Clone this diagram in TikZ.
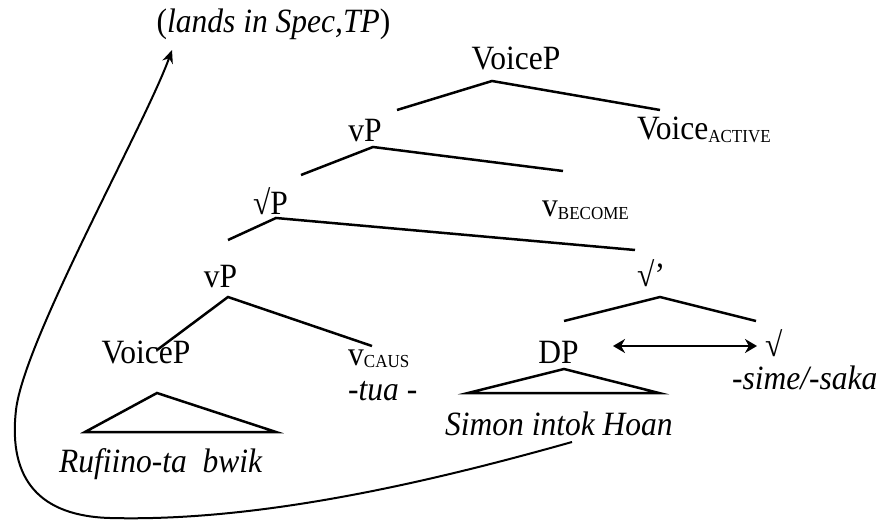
\documentclass[tikz,border=0pt]{standalone}
\usepackage{fontspec}
\setmainfont{Liberation Serif}
\usetikzlibrary{arrows.meta}
\newcommand{\lowsub}[1]{\raisebox{-2pt}{\fontsize{17}{20}\selectfont #1}}
\begin{document}
\begin{tikzpicture}[x=1pt,y=-1pt,
  lbl/.style={inner sep=0pt, yscale=1.08, font=\fontsize{31.5}{36}\selectfont},
  branch/.style={line width=2.5pt, line join=miter},
  move/.style={line width=2pt, -{Stealth[length=13pt,width=11pt]}},
  link/.style={line width=2.4pt, {Stealth[length=12pt,width=14pt]}-{Stealth[length=12pt,width=14pt]}}]
\useasboundingbox (0,0) rectangle (881,529);
% labels
\node[lbl, anchor=base] (lands) at (273.5,33) {(\textit{lands in Spec,TP})};
\node[lbl, anchor=base] (voicePtop) at (516,70) {VoiceP};
\node[lbl, anchor=base west] (voiceact) at (637,140) {Voice\lowsub{ACTIVE}};
\node[lbl, anchor=base] (vPtwo) at (365,142) {vP};
\node[lbl, anchor=base west] (vbecome) at (542,217) {v\lowsub{BECOME}};
\node[lbl, anchor=base west] (rootP) at (253,215) {√P};
\node[lbl, anchor=base] (vPthree) at (220.5,288) {vP};
\node[lbl, anchor=base west] (rootbar) at (637,287) {√’};
\node[lbl, anchor=base] (voicePlow) at (146,363) {VoiceP};
\node[lbl, anchor=base west] (vcaus) at (348,365) {v\lowsub{CAUS}};
\node[lbl, anchor=base west] (tua) at (348,400) {\textit{-tua -}};
\node[lbl, anchor=base] (DP) at (558.5,363) {DP};
\node[lbl, anchor=base west] (root) at (765,356) {√};
\node[lbl, anchor=base west] (sime) at (732,389) {\textit{-sime/-saka}};
\node[lbl, anchor=base west] (rufiino) at (59,472) {\textit{Rufiino-ta\ \ bwik}};
\node[lbl, anchor=base west] (simon) at (445,435) {\textit{Simon intok Hoan}};
% branch points
\coordinate (a1L) at (397,110); \coordinate (a1T) at (492,81); \coordinate (a1R) at (660,110);
\coordinate (a2L) at (301,175); \coordinate (a2T) at (373,147); \coordinate (a2R) at (563,171);
\coordinate (a3L) at (228,240); \coordinate (a3T) at (276,218); \coordinate (a3R) at (635,250);
\coordinate (a4L) at (157,350); \coordinate (a4T) at (228,297); \coordinate (a4R) at (372,346);
\coordinate (a5L) at (564,321); \coordinate (a5T) at (660,297); \coordinate (a5R) at (756,321);
\coordinate (t1T) at (157,393); \coordinate (t1L) at (85,432); \coordinate (t1R) at (276,432);
\coordinate (t2T) at (564,369); \coordinate (t2L) at (468,393); \coordinate (t2R) at (659,393);
\draw[branch] (a1L) -- (a1T) -- (a1R);
\draw[branch] (a2L) -- (a2T) -- (a2R);
\draw[branch] (a3L) -- (a3T) -- (a3R);
\draw[branch] (a4L) -- (a4T) -- (a4R);
\draw[branch] (a5L) -- (a5T) -- (a5R);
\draw[branch] (t1T) -- (t1L) -- (t1R) -- cycle;
\draw[branch] (t2T) -- (t2L) -- (t2R) -- cycle;
% agreement arrow
\coordinate (agrL) at (613,346); \coordinate (agrR) at (757,346);
\draw[link] (agrL) -- (agrR);
% movement arrow
\coordinate (mvS) at (572,442);
\coordinate (mvB) at (110,518);
\coordinate (mvC) at (16,410);
\coordinate (mvE) at (172,50);
\draw[move] (mvS) .. controls (430,482) and (260,522) .. (mvB)
  .. controls (40,516) and (8,480) .. (mvC)
  .. controls (24,340) and (145,125) .. (mvE);
\end{tikzpicture}
\end{document}
